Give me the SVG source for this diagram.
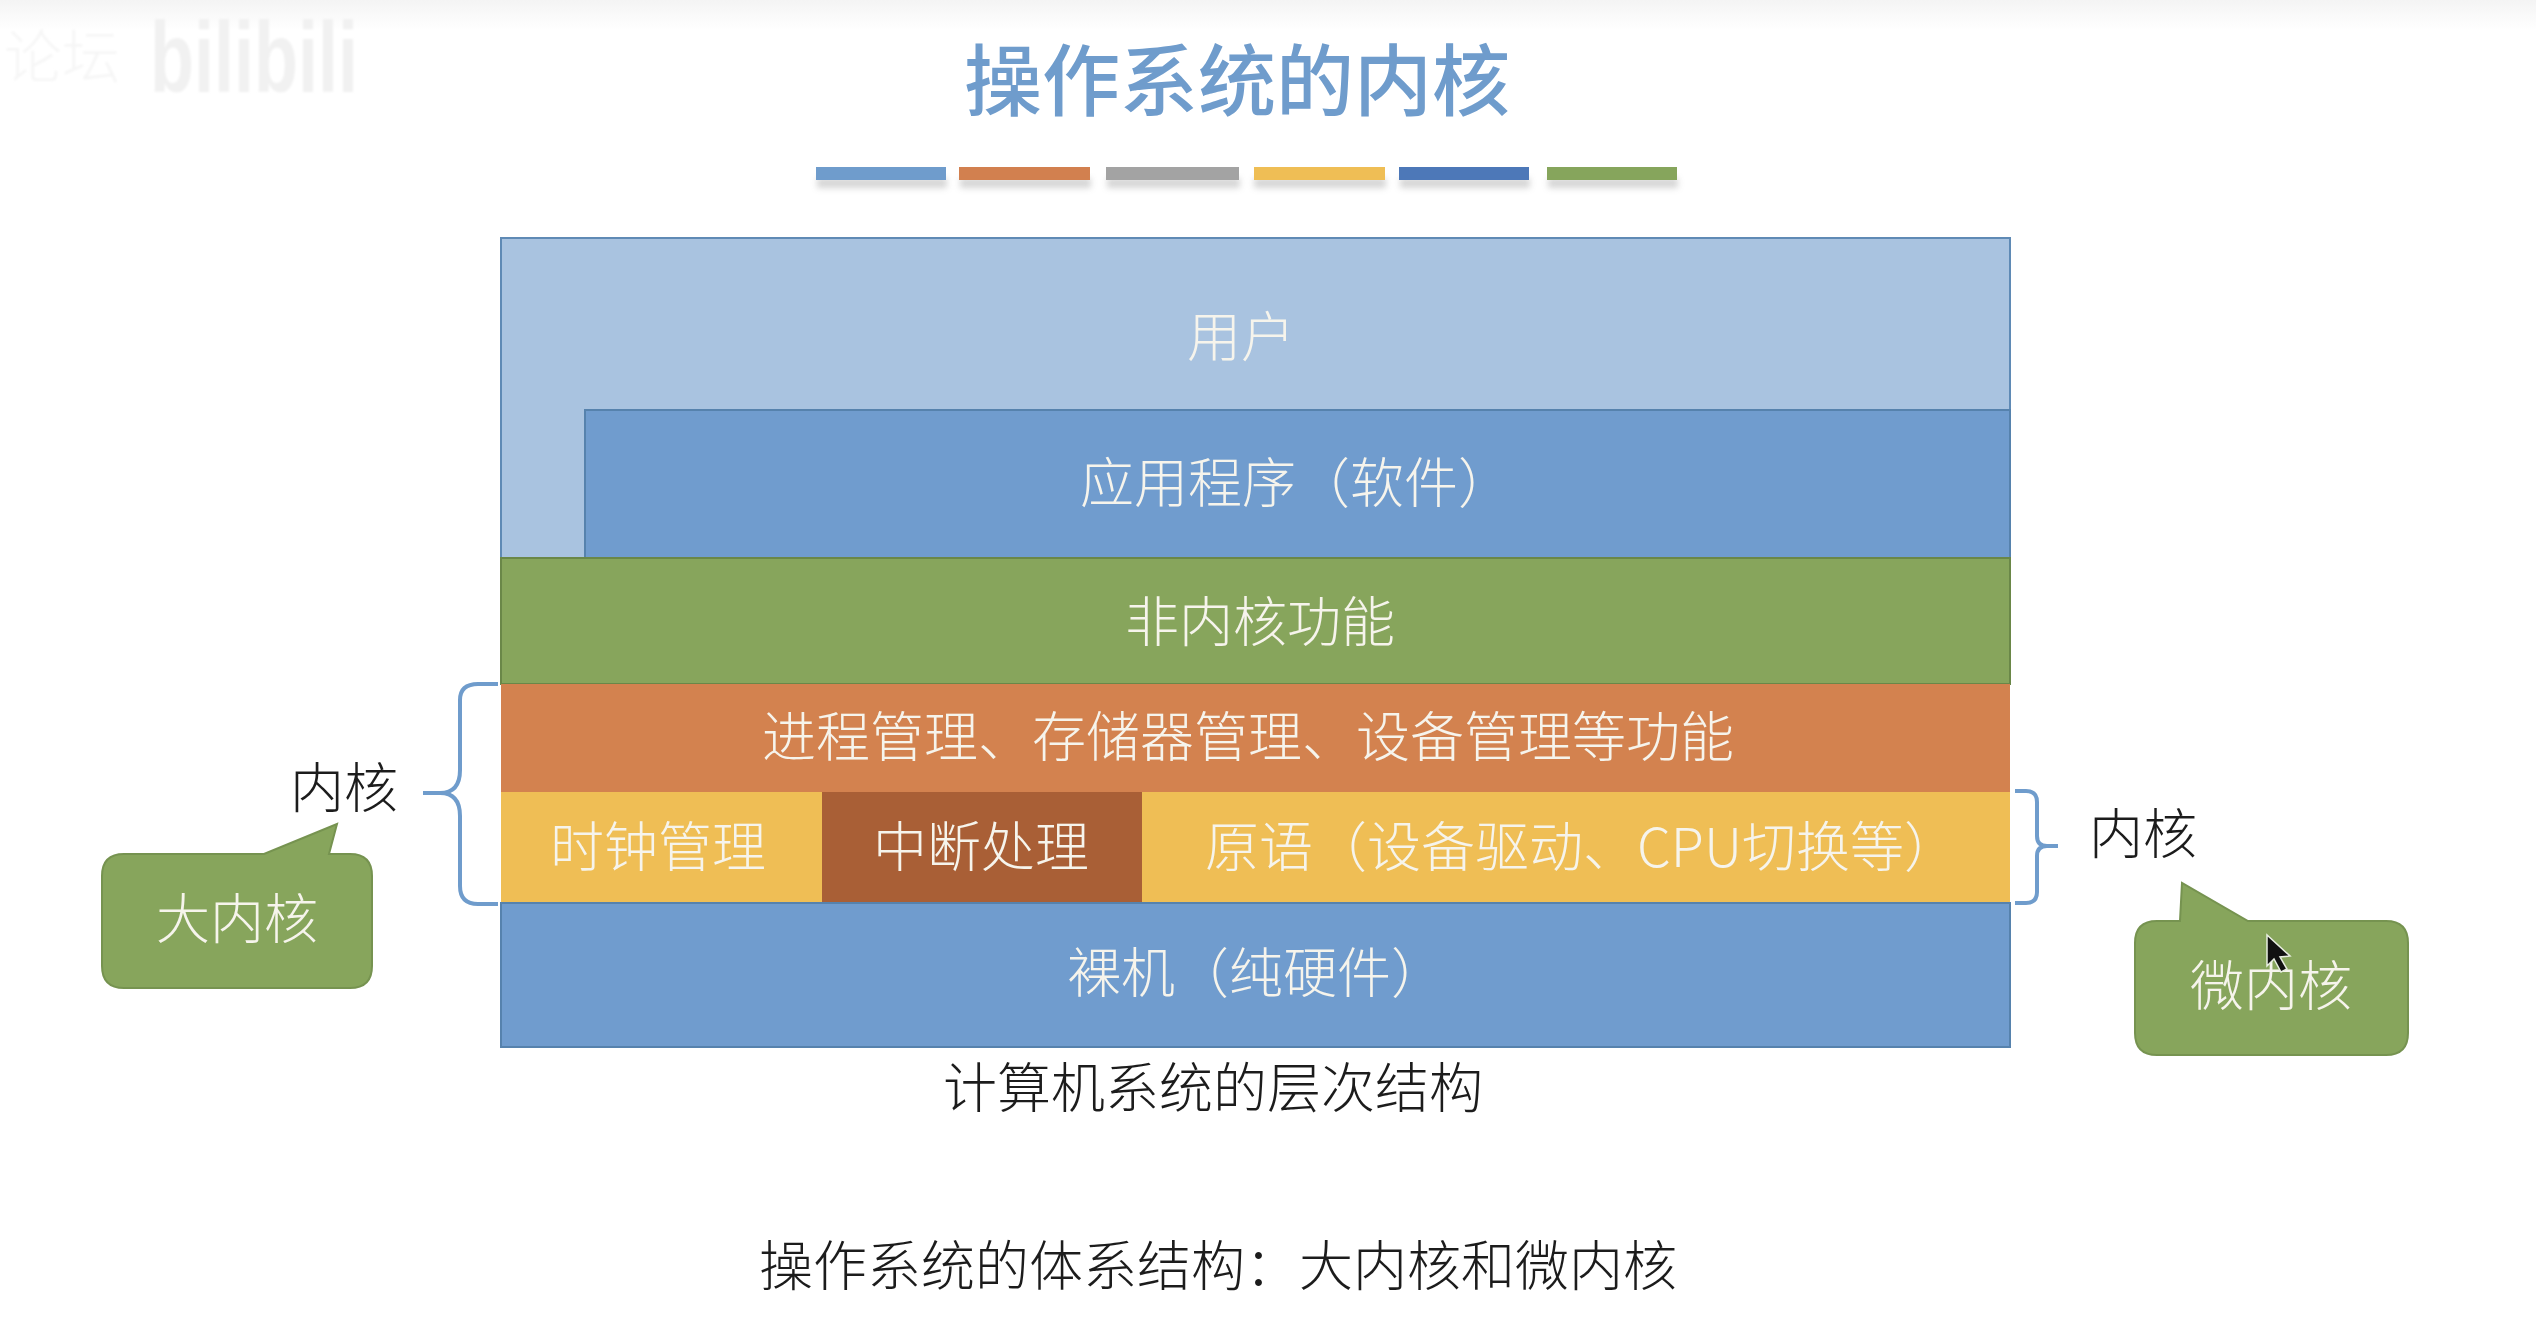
<svg xmlns="http://www.w3.org/2000/svg" width="2536" height="1334" viewBox="0 0 2536 1334">
<defs>
<linearGradient id="topfade" x1="0" y1="0" x2="0" y2="1"><stop offset="0" stop-color="#f4f4f4"/><stop offset="1" stop-color="#ffffff"/></linearGradient>
<filter id="barShadow" x="-10%" y="-50%" width="120%" height="300%"><feGaussianBlur stdDeviation="3"/></filter>
<filter id="soft" x="-5%" y="-5%" width="110%" height="110%"><feGaussianBlur stdDeviation="1"/></filter>
</defs>
<style>
text{font-family:"Noto Sans CJK SC","Liberation Sans",sans-serif;font-weight:300}
.b{stroke-width:2}
.on{fill:#f6f4ec;font-size:54px}
.dark{fill:#1c1c1c;font-size:54px}
.brace{fill:none;stroke:#6f9ccc;stroke-width:4}
</style>
<rect width="2536" height="1334" fill="#fff"/>
<rect width="2536" height="30" fill="url(#topfade)"/>
<g id="watermark" filter="url(#soft)"><text x="4" y="78" font-size="58" fill="#f6f6f6">论坛</text><text transform="translate(150 92) scale(.72 1)" font-size="100" fill="#f1f1f1" style="font-family:'Liberation Sans',sans-serif;font-weight:700">bilibili</text></g>
<g id="title"><text x="964" y="110" font-size="78" fill="#6f9ccc" style="font-weight:500">操作系统的内核</text></g>
<g id="title-bars">
<g fill="#888" opacity=".35" filter="url(#barShadow)"><rect x="817" y="178" width="130" height="10"/><rect x="960" y="178" width="131" height="10"/><rect x="1107" y="178" width="133" height="10"/><rect x="1254" y="178" width="132" height="10"/><rect x="1400" y="178" width="130" height="10"/><rect x="1548" y="178" width="130" height="10"/></g>
<rect x="816" y="167" width="130" height="13" fill="#6f9ccc"/><rect x="959" y="167" width="131" height="13" fill="#d2804f"/><rect x="1106" y="167" width="133" height="13" fill="#a3a3a3"/><rect x="1254" y="167" width="131" height="13" fill="#efbe55"/><rect x="1399" y="167" width="130" height="13" fill="#4d78b8"/><rect x="1547" y="167" width="130" height="13" fill="#86a55c"/>
</g>
<g id="user"><rect class="b" x="501" y="238" width="1509" height="320" fill="#a9c3e0" stroke="#5f8ab5"/><text class="on" x="1187" y="357">用户</text></g>
<g id="apps"><rect class="b" x="585" y="410" width="1425" height="148" fill="#709cce" stroke="#5682ad"/><text class="on" x="1080" y="503">应用程序（软件）</text></g>
<g id="non-kernel"><rect class="b" x="501" y="558" width="1509" height="126" fill="#87a55c" stroke="#6a8748"/><text class="on" x="1125" y="642">非内核功能</text></g>
<g id="mgmt"><rect x="501" y="684" width="1509" height="108" fill="#d3824f"/><text class="on" x="762" y="757">进程管理、存储器管理、设备管理等功能</text></g>
<g id="clock"><rect x="501" y="792" width="321" height="111" fill="#efbe55"/><text class="on" x="550" y="867">时钟管理</text></g>
<g id="interrupt"><rect x="822" y="792" width="320" height="111" fill="#a95f36"/><text class="on" x="873" y="867">中断处理</text></g>
<g id="primitive"><rect x="1142" y="792" width="868" height="111" fill="#efbe55"/><text class="on" x="1205" y="867">原语（设备驱动、CPU切换等）</text></g>
<g id="bare"><rect class="b" x="501" y="903" width="1509" height="144" fill="#709cce" stroke="#5682ad"/><text class="on" x="1067" y="993">裸机（纯硬件）</text></g>
<g id="connectors">
<path class="brace" d="M498 684H478Q460 684 460 700V770Q460 793 440 793H423M440 793Q460 793 460 816V886Q460 904 478 904H498"/>
<path class="brace" d="M2015 791H2026Q2037 791 2037 802V836Q2037 846 2047 846H2058M2047 846Q2037 846 2037 856V892Q2037 903 2026 903H2015"/>
</g>
<g id="kernel-left"><text class="dark" x="290" y="808">内核</text></g>
<g id="kernel-right"><text class="dark" x="2089" y="854">内核</text></g>
<g id="big-kernel"><path d="M124 854H264L337 824L329 854H350Q372 854 372 876V966Q372 988 350 988H124Q102 988 102 966V876Q102 854 124 854Z" fill="#87a55c" stroke="#769350" stroke-width="2"/><text class="on" x="156" y="939">大内核</text></g>
<g id="micro-kernel"><path d="M2157 921H2180L2182 883L2248 921H2386Q2408 921 2408 943V1033Q2408 1055 2386 1055H2157Q2135 1055 2135 1033V943Q2135 921 2157 921Z" fill="#87a55c" stroke="#769350" stroke-width="2"/><text class="on" x="2190" y="1006">微内核</text></g>
<g id="cursor"><path d="M2267 935V966L2274 959L2281 972L2287 969L2280 957L2290 956Z" fill="#111" stroke="#e8eee0" stroke-width="1.5"/></g>
<g id="caption"><text class="dark" x="943" y="1108">计算机系统的层次结构</text></g>
<g id="subtitle"><text class="dark" x="759" y="1286">操作系统的体系结构：大内核和微内核</text></g>
</svg>
